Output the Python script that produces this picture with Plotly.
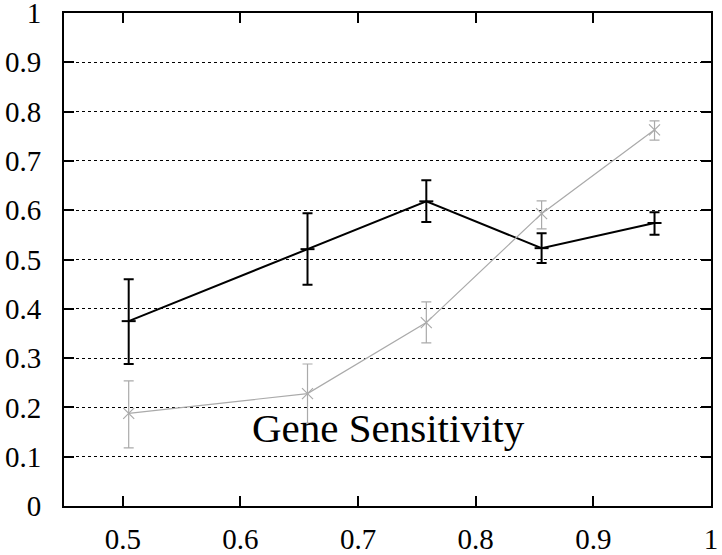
import plotly.graph_objects as go

x_vals = [0.505, 0.657, 0.758, 0.856, 0.952]

black_y = [0.375, 0.521, 0.618, 0.523, 0.574]
black_hi = [0.460, 0.594, 0.661, 0.553, 0.596]
black_lo = [0.288, 0.449, 0.576, 0.493, 0.550]

gray_y = [0.188, 0.228, 0.372, 0.593, 0.763]
gray_hi = [0.254, 0.288, 0.414, 0.619, 0.781]
gray_lo = [0.118, 0.168, 0.331, 0.562, 0.742]

y_ticks = [0, 0.1, 0.2, 0.3, 0.4, 0.5, 0.6, 0.7, 0.8, 0.9, 1]
y_tick_text = ["0", "0.1", "0.2", "0.3", "0.4", "0.5", "0.6", "0.7", "0.8", "0.9", "1"]
x_ticks = [0.5, 0.6, 0.7, 0.8, 0.9, 1.0]
x_tick_text = ["0.5", "0.6", "0.7", "0.8", "0.9", "1"]

label_text = "Gene Sensitivity"

FONT = "Liberation Serif"
GRAY = "#aaaaaa"

fig = go.Figure()
fig.add_trace(go.Scatter(
    x=x_vals, y=black_y, mode="lines+markers",
    line=dict(color="black", width=2),
    marker=dict(symbol="line-ew", size=10, line=dict(color="black", width=2)),
    error_y=dict(type="data", symmetric=False,
                 array=[h - v for h, v in zip(black_hi, black_y)],
                 arrayminus=[v - l for v, l in zip(black_y, black_lo)],
                 color="black", thickness=2, width=5),
    showlegend=False,
))
fig.add_trace(go.Scatter(
    x=x_vals, y=gray_y, mode="lines+markers",
    line=dict(color=GRAY, width=1.2),
    marker=dict(symbol="x-thin", size=11, line=dict(color=GRAY, width=1.2)),
    error_y=dict(type="data", symmetric=False,
                 array=[h - v for h, v in zip(gray_hi, gray_y)],
                 arrayminus=[v - l for v, l in zip(gray_y, gray_lo)],
                 color=GRAY, thickness=1.2, width=5),
    showlegend=False,
))

fig.add_annotation(x=0.7262, y=0.107, xref="x", yref="y", text=label_text,
                   showarrow=False, xanchor="center", yanchor="bottom",
                   font=dict(family=FONT, size=41, color="black"))

axis_common = dict(
    showline=True, linecolor="black", linewidth=2, mirror="ticks",
    ticks="inside", ticklen=10, tickwidth=2, tickcolor="black",
    zeroline=False, automargin=False, ticklabeloverflow="allow",
    tickfont=dict(family=FONT, size=29, color="black"),
)

fig.update_xaxes(range=[0.45, 1.0], tickvals=x_ticks, ticktext=x_tick_text,
                 showgrid=False, ticklabelstandoff=6, **axis_common)
fig.update_yaxes(range=[0, 1], tickvals=y_ticks, ticktext=y_tick_text,
                 showgrid=True, gridcolor="black", gridwidth=1, griddash="dot",
                 ticklabelstandoff=15, **axis_common)

fig.update_layout(
    width=722, height=555,
    margin=dict(l=64, r=11, t=13, b=49, autoexpand=False),
    plot_bgcolor="white", paper_bgcolor="white",
    font=dict(family=FONT),
)

fig.write_html("out.html", config={"displayModeBar": False},
               post_script="document.body.style.margin='0';")
